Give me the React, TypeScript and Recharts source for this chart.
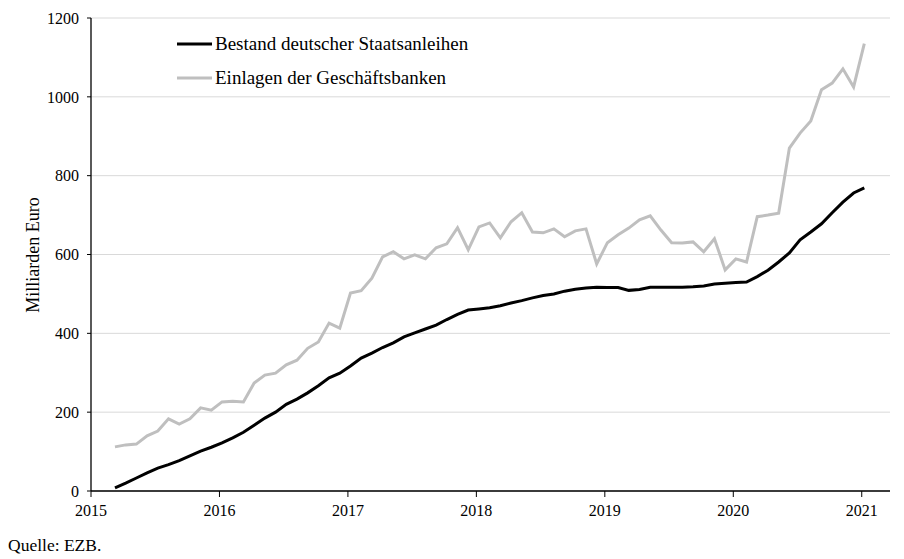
import React from 'react';
import { LineChart, Line, XAxis, YAxis, CartesianGrid } from 'recharts';

// Monthly data, March 2015 – January 2021 (Milliarden Euro)
const startYear = 2015;
const startMonth = 3;

const bestandLabel = 'Bestand deutscher Staatsanleihen';
const einlagenLabel = 'Einlagen der Geschäftsbanken';

const bestand = [
  8, 20, 33, 46, 58, 67, 77, 89, 101, 111,
  122, 135, 149, 167, 185, 200, 220, 233, 249, 267, 287, 299,
  317, 337, 350, 364, 376, 391, 401, 411, 421, 435, 448, 459,
  462, 465, 470, 477, 483, 490, 496, 500, 507, 512, 515, 517,
  516, 516, 509, 511, 517, 517, 517, 517, 518, 520, 525, 527,
  529, 530, 544, 560, 581, 604, 637, 657, 678, 706, 733, 756,
  769,
];

const einlagen = [
  112, 117, 119, 140, 152, 183, 170, 183, 211, 205,
  226, 228, 226, 274, 294, 299, 320, 332, 362, 378, 426, 413,
  502, 508, 540, 594, 607, 589, 599, 589, 617, 627, 668, 612,
  670, 680, 642, 683, 706, 657, 655, 665, 645, 660, 665, 576,
  630, 650, 667, 688, 698, 662, 630, 629, 632, 607, 640, 561,
  589, 581, 696, 700, 705, 870, 908, 939, 1018, 1035, 1071, 1025,
  1135,
];

const yearTicks = [2015, 2016, 2017, 2018, 2019, 2020, 2021];
const valueTicks = [0, 200, 400, 600, 800, 1000, 1200];

const data = bestand.map((b, i) => ({
  t: startYear + (startMonth - 1 + i) / 12 + 0.02,
  bestand: b,
  einlagen: einlagen[i],
}));

const FONT = '"Liberation Serif", "Times New Roman", serif';

const legendItems = [
  { label: bestandLabel, color: '#000000' },
  { label: einlagenLabel, color: '#bfbfbf' },
];

export default function App() {
  return (
    <div style={{ position: 'absolute', left: 0, top: 0, width: 904, height: 559, background: '#fff' }}>
      <LineChart
        width={904}
        height={525}
        data={data}
        margin={{ top: 18, right: 14, left: 0, bottom: 0 }}
      >
        <CartesianGrid vertical={false} stroke="#d9d9d9" strokeWidth={1} />
        <XAxis
          dataKey="t"
          type="number"
          domain={[2015, 2021.22]}
          ticks={yearTicks}
          allowDataOverflow
          height={34}
          tickSize={6}
          tickMargin={8}
          axisLine={{ stroke: '#000', strokeWidth: 1.3 }}
          tickLine={{ stroke: '#000' }}
          tick={{ fontFamily: FONT, fontSize: 16, fill: '#000' }}
        />
        <YAxis
          type="number"
          domain={[0, 1200]}
          ticks={valueTicks}
          width={91}
          tickSize={4}
          tickMargin={8}
          axisLine={{ stroke: '#000', strokeWidth: 1.3 }}
          tickLine={{ stroke: '#000' }}
          tick={{ fontFamily: FONT, fontSize: 16, fill: '#000' }}
        />
        <Line
          type="linear"
          dataKey="einlagen"
          name={einlagenLabel}
          stroke="#bfbfbf"
          strokeWidth={3}
          dot={false}
          isAnimationActive={false}
        />
        <Line
          type="linear"
          dataKey="bestand"
          name={bestandLabel}
          stroke="#000000"
          strokeWidth={3}
          dot={false}
          isAnimationActive={false}
        />
      </LineChart>
      <div
        style={{
          position: 'absolute',
          left: 177,
          top: 27,
          fontFamily: FONT,
          fontSize: 19,
          color: '#000',
        }}
      >
        {legendItems.map((it) => (
          <div key={it.label} style={{ display: 'flex', alignItems: 'center', height: 34, whiteSpace: 'nowrap' }}>
            <svg width={35} height={6} style={{ marginRight: 3, flex: 'none' }}>
              <line x1={0} y1={3} x2={35} y2={3} stroke={it.color} strokeWidth={3} />
            </svg>
            <span>{it.label}</span>
          </div>
        ))}
      </div>
      <div
        style={{
          position: 'absolute',
          left: 33 - 100,
          top: 255 - 10,
          width: 200,
          height: 20,
          lineHeight: '20px',
          textAlign: 'center',
          transform: 'rotate(-90deg)',
          fontFamily: FONT,
          fontSize: 18,
          color: '#000',
        }}
      >
        Milliarden Euro
      </div>
      <div
        style={{
          position: 'absolute',
          left: 8,
          top: 535,
          lineHeight: '20px',
          fontFamily: FONT,
          fontSize: 17.5,
          color: '#000',
        }}
      >
        Quelle: EZB.
      </div>
    </div>
  );
}
